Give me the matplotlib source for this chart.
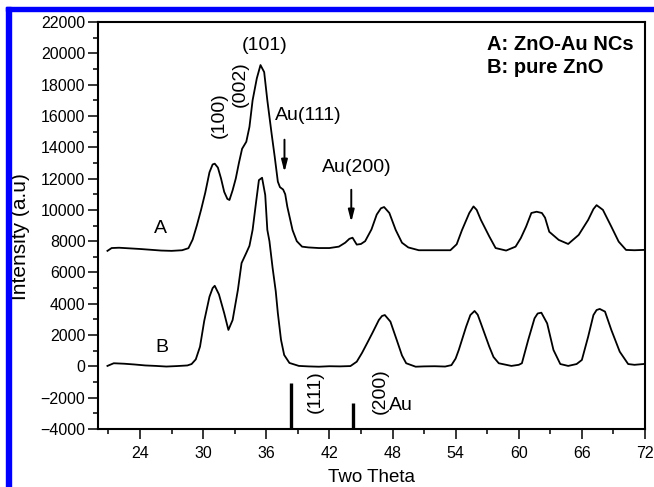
import matplotlib
matplotlib.use("Agg")
import matplotlib.pyplot as plt
from matplotlib.patches import Rectangle
from matplotlib.ticker import MultipleLocator

plt.rcParams['font.family'] = ['Liberation Sans', 'DejaVu Sans']

# curve A: ZnO-Au NCs (offset)
theta_a = [20.9, 21.3, 22.0, 23.0, 24.0, 25.0, 26.0, 27.0, 28.0, 28.6, 29.0, 29.4, 29.8,
           30.2, 30.6, 30.9, 31.1, 31.4, 31.7, 32.0, 32.3, 32.5, 32.8, 33.1, 33.4, 33.7,
           34.1, 34.4, 34.7, 35.1, 35.45, 35.8, 36.1, 36.5, 36.8, 37.1, 37.3, 37.6, 37.8,
           38.0, 38.2, 38.5, 38.9, 39.4, 40.0, 41.0, 42.0, 42.9, 43.5, 43.9, 44.2, 44.6,
           45.0, 45.4, 46.0, 46.5, 46.9, 47.2, 47.7, 48.3, 48.9, 49.5, 50.5, 51.5, 52.5, 53.5,
           54.1, 54.6, 55.3, 55.7, 56.0, 56.4, 57.2, 57.8, 58.8, 59.7, 60.2, 60.7, 61.2, 61.7,
           62.2, 62.5, 62.9, 63.8, 64.7, 65.7, 66.6, 67.1, 67.4, 68.0, 68.8, 69.5, 70.2, 71.0, 71.85]
int_a = [7380, 7560, 7580, 7540, 7500, 7450, 7400, 7380, 7420, 7550, 8100, 9000, 10000,
         11100, 12400, 12900, 12950, 12700, 12000, 11150, 10700, 10630, 11250, 12000, 13000, 13900,
         14350, 15300, 17000, 18400, 19250, 18800, 17000, 14900, 13400, 11800, 11450, 11300, 11000,
         10200, 9600, 8700, 8000, 7650, 7600, 7560, 7560, 7650, 7900, 8150, 8220, 7780,
         7820, 8000, 8750, 9700, 10100, 10180, 9800, 8720, 7900, 7600, 7420, 7420, 7420, 7420,
         7800, 8700, 9800, 10220, 10000, 9360, 8300, 7560, 7400, 7650, 8200, 8930, 9800, 9880,
         9800, 9500, 8600, 8080, 7820, 8400, 9360, 10050, 10300, 10000, 8930, 7970, 7440, 7420, 7440]

# curve B: pure ZnO
theta_b = [20.9, 21.5, 22.5, 23.5, 24.5, 25.5, 26.5, 27.5, 28.5, 28.9, 29.3, 29.7, 30.1,
           30.6, 30.9, 31.1, 31.5, 32.0, 32.4, 32.8, 33.3, 33.65, 34.1, 34.4, 34.7, 35.05, 35.3,
           35.6, 35.9, 36.1, 36.3, 36.6, 36.9, 37.1, 37.4, 37.7, 38.2, 39.1, 40.0, 41.0,
           42.0, 43.0, 44.0, 44.6, 45.1, 45.6, 46.1, 46.7, 47.0, 47.27, 47.8, 48.4, 48.9, 49.3,
           50.2, 51.0, 52.0, 53.0, 53.6, 54.0, 54.3, 55.0, 55.4, 55.8, 56.1, 56.4, 57.2, 57.6,
           58.1, 59.3, 60.0, 60.3, 60.9, 61.5, 61.8, 62.15, 62.7, 63.3, 63.95, 64.7, 65.5, 66.0,
           66.6, 67.1, 67.4, 67.7, 68.2, 68.8, 69.6, 70.4, 71.0, 71.85]
int_b = [30, 200, 170, 120, 60, 30, -10, 20, 60, 150, 450, 1260, 2900,
         4450, 5000, 5150, 4600, 3400, 2330, 2960, 4880, 6600, 7250, 7700, 8720, 10600, 11900,
         12050, 10950, 8720, 8000, 6300, 4800, 3400, 1700, 730, 220, 30, 0, -20,
         10, 0, 20, 300, 860, 1500, 2150, 2960, 3220, 3280, 2860, 1690, 700, 200,
         -20, 0, 10, -10, 80, 500, 1050, 2540, 3280, 3540, 3300, 2750, 1260, 600,
         200, 30, 100, 200, 1690, 3070, 3380, 3430, 2750, 1050, 150, 30, 150, 410,
         1900, 3280, 3600, 3670, 3500, 2330, 940, 150, 100, 150]

# Au reference lines
au_pos = [38.36, 44.27]
au_top = [-1080, -2360]

fig = plt.figure(figsize=(6.54, 4.87), dpi=100)
ax = fig.add_axes([0.1498, 0.1191, 0.8364, 0.8357])

ax.plot(theta_a, int_a, color='black', lw=1.3)
ax.plot(theta_b, int_b, color='black', lw=1.3)
ax.vlines(au_pos, -4000, au_top, color='black', lw=2.4)

ax.set_xlim(20, 72)
ax.set_ylim(-4000, 22000)
ax.xaxis.set_major_locator(MultipleLocator(6))
ax.xaxis.set_minor_locator(MultipleLocator(3))
ax.yaxis.set_major_locator(MultipleLocator(2000))
ax.yaxis.set_minor_locator(MultipleLocator(1000))
ax.tick_params(which='major', direction='out', length=7, width=1.1, labelsize=11.5)
ax.tick_params(which='minor', direction='out', length=3.5, width=1.1)
ax.tick_params(axis='x', pad=5)
ax.tick_params(axis='y', pad=2)
for s in ax.spines.values():
    s.set_linewidth(1.5)

ax.set_xlabel("Two Theta", fontsize=13.5, labelpad=6)
ax.set_ylabel("Intensity (a.u)", fontsize=15)
ax.yaxis.set_label_coords(-0.124, 0.472)

fs = 14
ax.text(35.88, 20470, "(101)", fontsize=fs, ha='center', va='center')
ax.text(31.56, 16060, "(100)", fontsize=fs, ha='center', va='center', rotation=90)
ax.text(33.5, 18010, "(002)", fontsize=fs, ha='center', va='center', rotation=90)
ax.text(40.0, 16000, "Au(111)", fontsize=fs, ha='center', va='center')
ax.text(44.6, 12710, "Au(200)", fontsize=fs, ha='center', va='center')
ax.text(25.97, 8840, "A", fontsize=fs, ha='center', va='center')
ax.text(26.1, 1210, "B", fontsize=fs, ha='center', va='center')
ax.text(40.66, -1600, "(111)", fontsize=fs, ha='center', va='center', rotation=90)
ax.text(46.8, -1600, "(200)", fontsize=fs, ha='center', va='center', rotation=90)
ax.text(48.77, -2530, "Au", fontsize=fs, ha='center', va='center')

arrow = dict(arrowstyle='-|>,head_width=0.18,head_length=0.7', color='black', lw=1.4)
ax.annotate("", xy=(37.73, 12230), xytext=(37.73, 14660), arrowprops=arrow)
ax.annotate("", xy=(44.08, 9040), xytext=(44.08, 11460), arrowprops=arrow)

ax.text(56.97, 20540, "A: ZnO-Au NCs", fontsize=14.5, fontweight='bold', ha='left', va='center')
ax.text(56.97, 19070, "B: pure ZnO", fontsize=14.5, fontweight='bold', ha='left', va='center')

# blue frame along the left and top edges
fig.patches.append(Rectangle((6 / 654, 0), 5 / 654, 1 - 7 / 487, transform=fig.transFigure,
                             color='#0000ff', zorder=10))
fig.patches.append(Rectangle((6 / 654, 1 - 11 / 487), 1 - 6 / 654, 4.5 / 487,
                             transform=fig.transFigure, color='#0000ff', zorder=10))

fig.savefig("out.png", dpi=100)
